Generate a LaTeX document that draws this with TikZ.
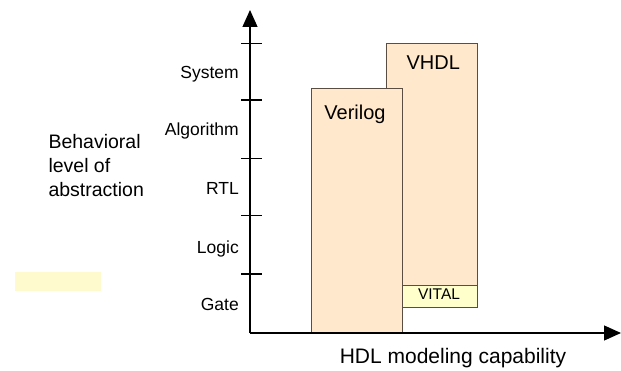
\documentclass[tikz,border=0pt]{standalone}
\usepackage{fontspec}
\setmainfont{Liberation Sans}
\usetikzlibrary{arrows.meta}
\definecolor{peach}{RGB}{255,232,204}
\definecolor{vitalfill}{RGB}{255,255,204}
\definecolor{noteyellow}{RGB}{255,250,205}
\definecolor{edgec}{RGB}{90,78,66}
\tikzset{
  axisline/.style={line width=1.3pt, black, -{Triangle[length=17pt,width=15pt]}},
  tickline/.style={line width=1.1pt, black},
  hdlbox/.style={draw=edgec, fill=peach, line width=1pt, inner sep=0pt, anchor=north west},
  vitalbox/.style={draw=edgec, fill=vitalfill, line width=1pt, inner sep=0pt, anchor=north west},
  levellabel/.style={anchor=base east, font=\fontsize{17.5}{20}\selectfont, inner sep=0pt},
  boxlabel/.style={anchor=base, font=\fontsize{20}{24}\selectfont, inner sep=0pt},
}
\begin{document}
\begin{tikzpicture}[x=1pt,y=-1pt]
\useasboundingbox (0,0) rectangle (621,371);
% note rectangle
\node[fill=noteyellow, minimum width=86pt, minimum height=19.3pt, inner sep=0pt, anchor=north west] (note) at (15,271.7) {};
% boxes
\node[hdlbox, minimum width=91pt, minimum height=241.7pt] (vhdl) at (385.7,43.3) {};
\node[vitalbox, minimum width=74.7pt, minimum height=21.7pt] (vital) at (402,285) {};
\node[hdlbox, minimum width=91.3pt, minimum height=244.7pt] (verilog) at (310.7,88.3) {};
\node[boxlabel] (verilogtext) at (355,119.3) {Verilog};
\node[boxlabel] (vhdltext) at (433.3,69.3) {VHDL};
\node[anchor=base, font=\fontsize{15.5}{18}\selectfont, inner sep=0pt] (vitaltext) at (439,299.3) {VITAL};
% axes
\coordinate (origin) at (250,333);
\coordinate (ytip) at (250,10);
\coordinate (xtip) at (621,333);
\draw[axisline] (origin) -- (ytip);
\draw[axisline] (origin) -- (xtip);
% ticks
\foreach \n/\y in {t1/43.5, t2/100, t3/158.3, t4/215.7, t5/274}{
  \coordinate (\n l) at (241,\y);
  \coordinate (\n r) at (262,\y);
  \draw[tickline] (\n l) -- (\n r);
}
% level labels
\node[levellabel] (system) at (239,78.5) {System};
\node[levellabel] (algorithm) at (239,136) {Algorithm};
\node[levellabel] (rtl) at (239,194.7) {RTL};
\node[levellabel] (logic) at (239,253.5) {Logic};
\node[levellabel] (gate) at (239,310.5) {Gate};
% axis titles (base anchor = baseline of the last line)
\node[anchor=base west, align=left, font=\fontsize{19.5}{24}\selectfont, inner sep=0pt] (ylabel) at (48.3,196.5) {Behavioral\\level of\\abstraction};
\node[anchor=base, font=\fontsize{21}{24}\selectfont, inner sep=0pt] (xlabel) at (453,363) {HDL modeling capability};
\end{tikzpicture}
\end{document}
